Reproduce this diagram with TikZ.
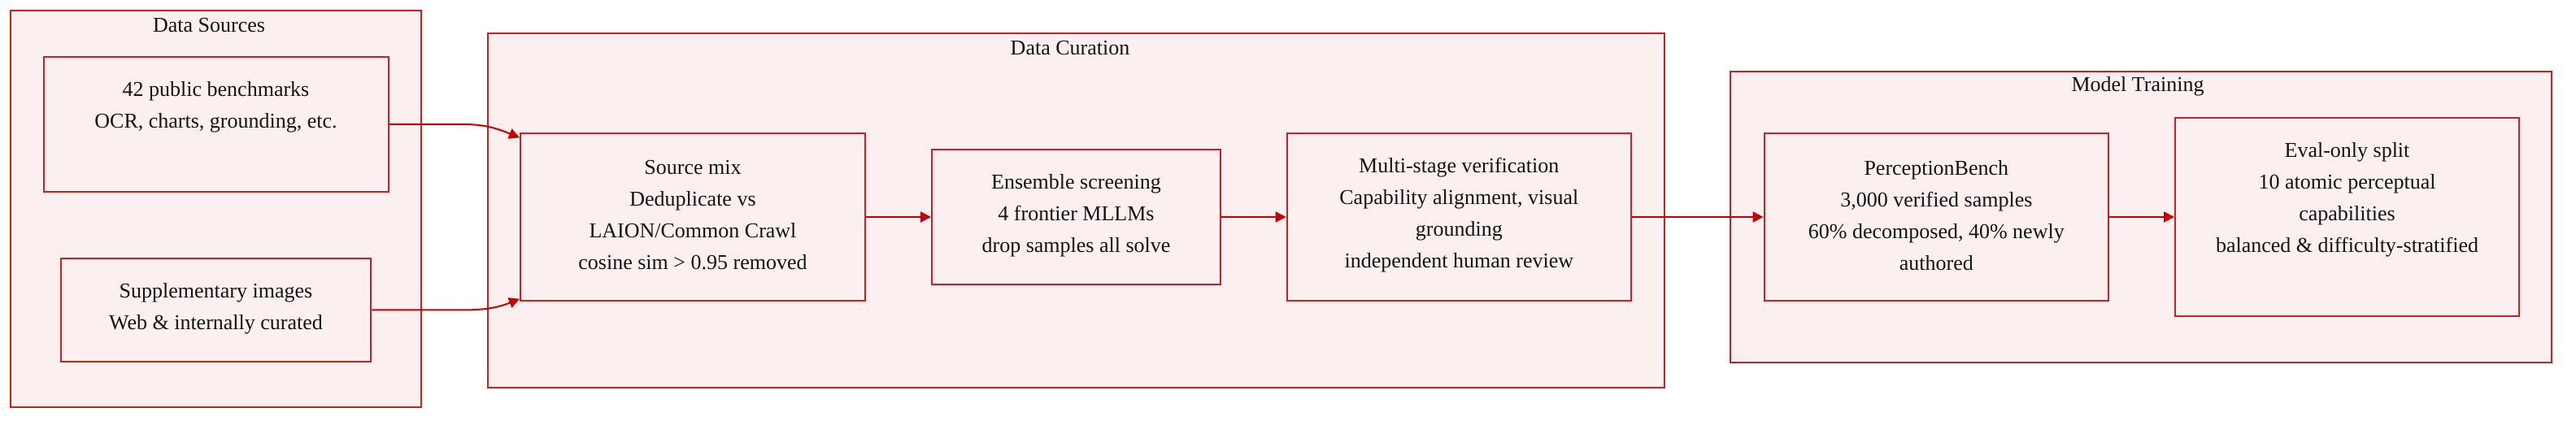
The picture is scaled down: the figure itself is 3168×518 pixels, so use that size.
\documentclass[tikz,border=0pt]{standalone}
\usepackage{fontspec}
\setmainfont{Liberation Serif}
\usetikzlibrary{arrows.meta}
\definecolor{bord}{RGB}{206,30,38}
\definecolor{arrc}{RGB}{198,0,0}
\definecolor{pinkf}{RGB}{252,239,240}
\definecolor{ink}{RGB}{20,20,20}
\begin{document}
\begin{tikzpicture}[x=0.5pt,y=-0.5pt,
  cluster/.style={draw=bord,fill=pinkf,line width=1pt,inner sep=0pt,rectangle},
  box/.style={draw=bord,fill=pinkf,line width=1pt,inner sep=0pt,rectangle},
  txt/.style={align=center,font=\fontsize{13}{19.5}\selectfont,inner sep=0pt,text=ink},
  ttl/.style={font=\fontsize{13}{15.6}\selectfont,inner sep=0pt,text=ink},
  arr/.style={draw=arrc,line width=1pt,-{Triangle[length=6.5pt,width=6.5pt]}}]
\useasboundingbox (0,0) rectangle (3168,518);

% clusters
\node[cluster,minimum width=252.5pt,minimum height=244pt] (csrc) at (265.5,257) {};
\node[cluster,minimum width=723.7pt,minimum height=218.3pt] (ccur) at (1323.2,259) {};
\node[cluster,minimum width=505.2pt,minimum height=179.1pt] (ctrn) at (2633.2,266.9) {};
\node[ttl] (tsrc) at (257,31) {Data Sources};
\node[ttl] (tcur) at (1316,59) {Data Curation};
\node[ttl] (ttrn) at (2629,106) {Model Training};

% boxes
\node[box,minimum width=212pt,minimum height=83pt] (b1) at (265.5,153) {};
\node[box,minimum width=190.8pt,minimum height=63.6pt] (b2) at (265.5,381.4) {};
\node[box,minimum width=212pt,minimum height=102.7pt] (sm) at (852,267) {};
\node[box,minimum width=177.5pt,minimum height=83pt] (ens) at (1323.5,267) {};
\node[box,minimum width=211.7pt,minimum height=102.7pt] (ms) at (1794.3,267) {};
\node[box,minimum width=211.7pt,minimum height=102.5pt] (pb) at (2381.3,267) {};
\node[box,minimum width=211.5pt,minimum height=122.2pt] (ev) at (2886.5,267) {};

% texts
\node[txt] (b1t) at (265.5,132) {42 public benchmarks\\OCR, charts, grounding, etc.};
\node[txt] (b2t) at (265.5,379.4) {Supplementary images\\Web \& internally curated};
\node[txt] (smt) at (852,265) {Source mix\\Deduplicate vs\\LAION/Common Crawl\\cosine sim > 0.95 removed};
\node[txt] (enst) at (1323.5,265) {Ensemble screening\\4 frontier MLLMs\\drop samples all solve};
\node[txt] (mst) at (1794.3,265) {Multi-stage verification\\Capability alignment, visual\\grounding\\independent human review};
\node[txt] (pbt) at (2381.3,265) {PerceptionBench\\3,000 verified samples\\60\% decomposed, 40\% newly\\authored};
\node[txt] (evt) at (2886.5,246) {Eval-only split\\10 atomic perceptual\\capabilities\\balanced \& difficulty-stratified};

% connectors
\draw[arr] (b1.east) -- ++(92,0) to[out=0,in=158] ([yshift=-3pt]sm.north west);
\draw[arr] (b2.east) -- ++(114,0) to[out=0,in=-158] ([yshift=1.5pt]sm.south west);
\draw[arr] (sm.east) -- (ens.west);
\draw[arr] (ens.east) -- (ms.west);
\draw[arr] (ms.east) -- (pb.west);
\draw[arr] (pb.east) -- (ev.west);
\end{tikzpicture}
\end{document}
